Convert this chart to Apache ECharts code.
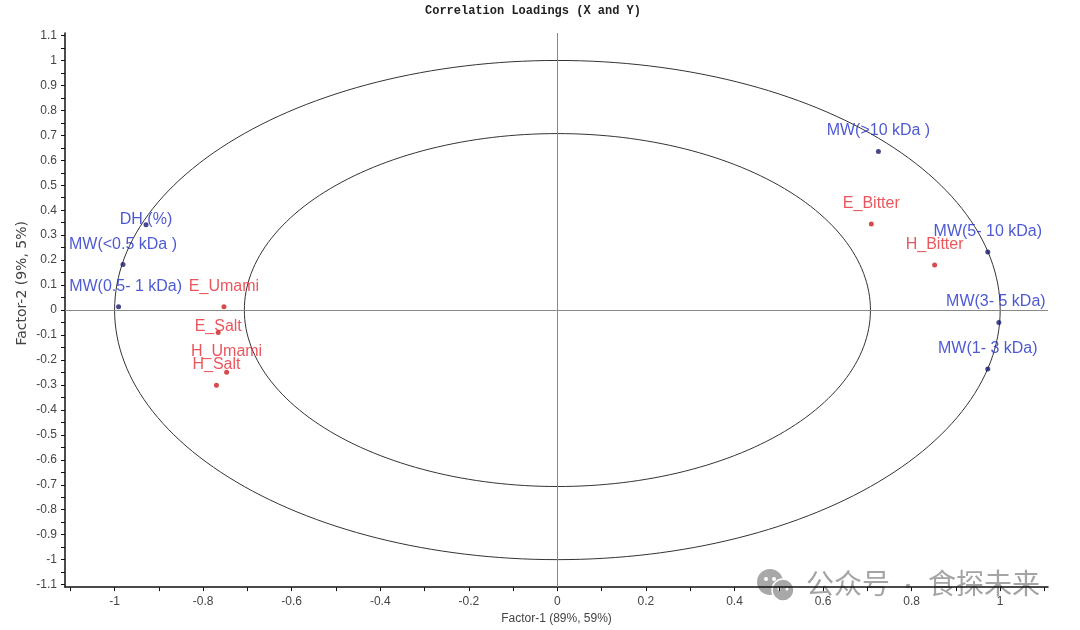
<!DOCTYPE html>
<html>
<head>
<meta charset="utf-8">
<title>Correlation Loadings</title>
<script src="https://cdn.jsdelivr.net/npm/echarts@6/dist/echarts.min.js"></script>
<style>
  html, body { margin: 0; padding: 0; background: #fff; }
  #main { width: 1080px; height: 630px; }
</style>
</head>
<body>
<div id="main"></div>
<script>
// X 变量（蓝）
var xVarNames = ['MW(>10 kDa )', 'MW(5- 10 kDa)', 'MW(3- 5 kDa)', 'MW(1- 3 kDa)', 'DH (%)', 'MW(<0.5 kDa )', 'MW(0.5- 1 kDa)'];
var xVarF1 = [0.725, 0.972, 0.997, 0.972, -0.929, -0.981, -0.991];
var xVarF2 = [0.635, 0.233, -0.05, -0.236, 0.342, 0.182, 0.013];

// Y 变量（红）
var yVarNames = ['E_Bitter', 'H_Bitter', 'E_Umami', 'E_Salt', 'H_Umami', 'H_Salt'];
var yVarF1 = [0.709, 0.852, -0.753, -0.766, -0.747, -0.770];
var yVarF2 = [0.345, 0.180, 0.013, -0.090, -0.249, -0.301];

// 椭圆半径（100% 和 50% 解释方差）
var ellipseRadii = [1, 0.707];

// 刻度
var xTickLabels = [-1, -0.8, -0.6, -0.4, -0.2, 0, 0.2, 0.4, 0.6, 0.8, 1];
var yTickLabels = [-1.1, -1, -0.9, -0.8, -0.7, -0.6, -0.5, -0.4, -0.3, -0.2, -0.1, 0, 0.1, 0.2, 0.3, 0.4, 0.5, 0.6, 0.7, 0.8, 0.9, 1, 1.1];

// 个别标签的偏移
var labelNudge = {
  'DH (%)': [0, 15],
  'E_Salt': [0, 15],
  'MW(0.5- 1 kDa)': [7, 0],
  'MW(3- 5 kDa)': [-3, 0]
};

var xTicks = [];
for (var i = -11; i <= 11; i++) xTicks.push(i / 10);
var yTicks = [];
for (var j = -22; j <= 22; j++) yTicks.push(j / 20);

function buildPoints(names, f1, f2) {
  return names.map(function (n, k) {
    var item = { name: n, value: [f1[k], f2[k]] };
    if (labelNudge[n]) item.label = { offset: labelNudge[n] };
    return item;
  });
}

var chart = echarts.init(document.getElementById('main'));

var axisText = { color: '#444', fontSize: 12, fontFamily: 'Liberation Sans, Arial, sans-serif' };

var option = {
  animation: false,
  title: {
    text: 'Correlation Loadings (X and Y)',
    left: 528,
    textAlign: 'center',
    top: 0,
    textStyle: { fontFamily: 'Liberation Mono, monospace', fontWeight: 'bold', fontSize: 12, color: '#222' }
  },
  grid: { left: 65, right: 32, top: 33, bottom: 37 },
  xAxis: {
    type: 'value',
    min: -1.112,
    max: 1.108,
    name: 'Factor-1 (89%, 59%)',
    nameLocation: 'middle',
    nameGap: 22,
    nameTextStyle: axisText,
    axisLine: { onZero: false, lineStyle: { color: '#111', width: 1.5 } },
    axisTick: { customValues: xTicks, length: 4, lineStyle: { color: '#111' } },
    axisLabel: Object.assign({ customValues: xTickLabels, margin: 9 }, axisText),
    splitLine: { show: false }
  },
  yAxis: {
    type: 'value',
    min: -1.11,
    max: 1.11,
    axisLine: { onZero: false, lineStyle: { color: '#111', width: 1.5 } },
    axisTick: { customValues: yTicks, length: 4, lineStyle: { color: '#111' } },
    axisLabel: Object.assign({ customValues: yTickLabels, margin: 8 }, axisText),
    splitLine: { show: false }
  },
  series: [
    {
      type: 'custom',
      silent: true,
      clip: false,
      data: ellipseRadii.map(function (r) { return [r, 0]; }),
      renderItem: function (params, api) {
        var r = api.value(0);
        var pts = [];
        for (var a = 0; a <= 240; a++) {
          var t = a / 240 * Math.PI * 2;
          pts.push(api.coord([r * Math.cos(t), r * Math.sin(t)]));
        }
        return { type: 'polyline', shape: { points: pts }, style: { stroke: '#333', fill: 'none', lineWidth: 1 } };
      },
      z: 1
    },
    {
      name: 'X',
      type: 'scatter',
      symbolSize: 5,
      itemStyle: { color: '#1a1a70' },
      label: {
        show: true,
        position: 'top',
        distance: 10,
        formatter: '{b}',
        color: '#2030c8',
        fontSize: 16,
        fontFamily: 'Liberation Sans, Arial, sans-serif'
      },
      data: buildPoints(xVarNames, xVarF1, xVarF2),
      markLine: {
        silent: true,
        symbol: 'none',
        label: { show: false },
        lineStyle: { color: '#888', type: 'solid', width: 1 },
        data: [{ xAxis: 0 }, { yAxis: 0 }]
      },
      z: 3
    },
    {
      name: 'Y',
      type: 'scatter',
      symbolSize: 5,
      itemStyle: { color: '#cc1e1e' },
      label: {
        show: true,
        position: 'top',
        distance: 10,
        formatter: '{b}',
        color: '#e62c34',
        fontSize: 16,
        fontFamily: 'Liberation Sans, Arial, sans-serif'
      },
      data: buildPoints(yVarNames, yVarF1, yVarF2),
      z: 3
    }
  ],
  graphic: [
    {
      type: 'text',
      left: 15,
      top: 221,
      rotation: Math.PI / 2,
      silent: true,
      style: {
        text: 'Factor-2 (9%, 5%)',
        fill: '#444',
        fontSize: 14,
        fontFamily: 'DejaVu Sans, sans-serif'
      }
    },
    {
      type: 'group',
      left: 757,
      top: 569,
      silent: true,
      children: [
        { type: 'circle', shape: { cx: 14, cy: 13, r: 13 }, style: { fill: '#a8a8a8' } },
        { type: 'circle', shape: { cx: 27, cy: 21, r: 11 }, style: { fill: '#a8a8a8', stroke: '#fff', lineWidth: 1.5 } },
        { type: 'circle', shape: { cx: 10, cy: 10, r: 2 }, style: { fill: '#fff' } },
        { type: 'circle', shape: { cx: 18, cy: 10, r: 2 }, style: { fill: '#fff' } },
        { type: 'circle', shape: { cx: 23, cy: 20, r: 1.5 }, style: { fill: '#fff' } },
        { type: 'circle', shape: { cx: 31, cy: 20, r: 1.5 }, style: { fill: '#fff' } }
      ]
    },
    {
      type: 'text',
      left: 806,
      top: 569,
      silent: true,
      style: { text: '公众号', fill: '#a4a4a4', fontSize: 28, fontFamily: 'Noto Sans CJK SC' }
    },
    {
      type: 'circle',
      silent: true,
      shape: { cx: 908, cy: 586, r: 2.2 },
      style: { fill: '#a4a4a4' }
    },
    {
      type: 'text',
      left: 928,
      top: 569,
      silent: true,
      style: { text: '食探未来', fill: '#a4a4a4', fontSize: 28, fontFamily: 'Noto Sans CJK SC' }
    }
  ]
};

chart.setOption(option);
window.onresize = chart.resize;
</script>
</body>
</html>
